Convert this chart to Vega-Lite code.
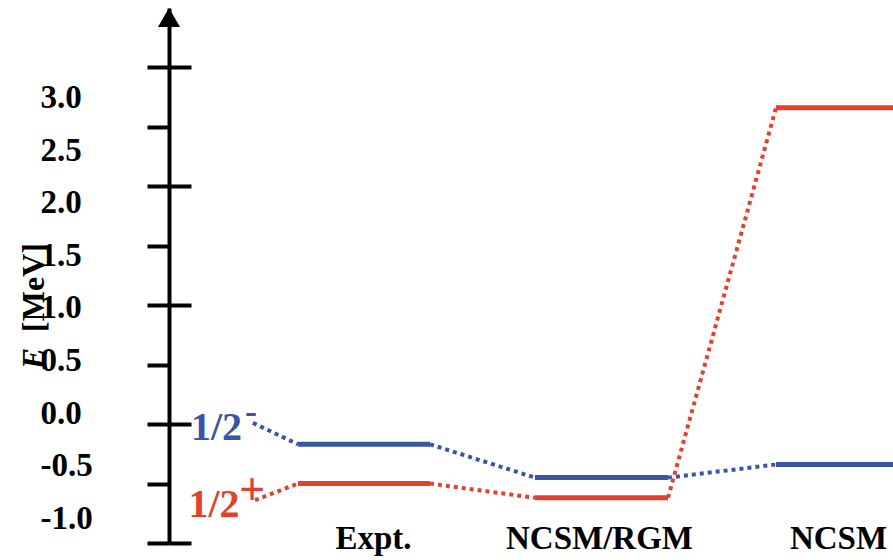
{
  "$schema": "https://vega.github.io/schema/vega-lite/v6.json",
  "width": 724,
  "height": 535,
  "autosize": {"type": "none"},
  "padding": {"left": 169, "top": 8, "right": 0, "bottom": 17},
  "background": "white",
  "config": {"view": {"stroke": null}},
  "datasets": {
    "segments": [
      {"state": "1/2-", "kind": "link", "x": 0.84, "E": 0.01, "x2": 1.29, "E2": -0.17},
      {"state": "1/2-", "kind": "level", "x": 1.29, "E": -0.17, "x2": 2.61, "E2": -0.17},
      {"state": "1/2-", "kind": "link", "x": 2.61, "E": -0.17, "x2": 3.66, "E2": -0.45},
      {"state": "1/2-", "kind": "level", "x": 3.66, "E": -0.45, "x2": 4.99, "E2": -0.45},
      {"state": "1/2-", "kind": "link", "x": 4.99, "E": -0.45, "x2": 6.07, "E2": -0.34},
      {"state": "1/2-", "kind": "level", "x": 6.07, "E": -0.34, "x2": 7.6, "E2": -0.34},
      {"state": "1/2+", "kind": "link", "x": 0.86, "E": -0.64, "x2": 1.29, "E2": -0.5},
      {"state": "1/2+", "kind": "level", "x": 1.29, "E": -0.5, "x2": 2.61, "E2": -0.5},
      {"state": "1/2+", "kind": "link", "x": 2.61, "E": -0.5, "x2": 3.66, "E2": -0.62},
      {"state": "1/2+", "kind": "level", "x": 3.66, "E": -0.62, "x2": 4.99, "E2": -0.62},
      {"state": "1/2+", "kind": "link", "x": 4.99, "E": -0.62, "x2": 6.07, "E2": 2.66},
      {"state": "1/2+", "kind": "level", "x": 6.07, "E": 2.66, "x2": 7.6, "E2": 2.66}
    ],
    "labels": [
      {"state": "1/2-", "kind": "main", "text": "1/2", "x": 0.475, "E": -0.034},
      {"state": "1/2-", "kind": "sup", "text": "-", "x": 0.82, "E": 0.1},
      {"state": "1/2+", "kind": "main", "text": "1/2", "x": 0.45, "E": -0.68},
      {"state": "1/2+", "kind": "sup", "text": "+", "x": 0.83, "E": -0.56}
    ],
    "arrow": [
      {"x": 0, "E": 3.42}
    ]
  },
  "resolve": {"axis": {"y": "independent"}},
  "layer": [
    {
      "data": {"name": "segments"},
      "mark": {"type": "rule", "clip": true},
      "encoding": {
        "x": {
          "field": "x", "type": "quantitative",
          "scale": {"domain": [0, 7.24], "nice": false, "zero": false},
          "axis": {
            "values": [2.04, 4.3, 6.69],
            "labelExpr": "datum.value < 3 ? 'Expt.' : (datum.value < 5 ? 'NCSM/RGM' : 'NCSM')",
            "domain": false, "ticks": false, "tickSize": 0, "grid": false,
            "labelFont": "Liberation Serif", "labelFontWeight": "bold", "labelFontSize": 33,
            "labelColor": "black", "labelBaseline": "alphabetic", "labelPadding": 5,
            "labelLimit": 500,
            "labelFlush": false, "labelOverlap": false, "title": null
          }
        },
        "x2": {"field": "x2"},
        "y": {
          "field": "E", "type": "quantitative",
          "scale": {"domain": [-1, 3.5], "nice": false, "zero": false},
          "axis": {
            "orient": "left",
            "values": [3, 2.5, 2, 1.5, 1, 0.5, 0, -0.5, -1],
            "labelExpr": "datum.value < 0 ? '-' + format(-datum.value, '.1f') : format(datum.value, '.1f')",
            "grid": false,
            "domainColor": "black", "domainWidth": 4,
            "tickColor": "black", "tickWidth": 4, "tickSize": 22,
            "labelFont": "Liberation Serif", "labelFontWeight": "bold", "labelFontSize": 33,
            "labelColor": "black", "labelAlign": "left", "labelPadding": 107,
            "labelOffset": {"expr": "2.7 + 13.75 * (datum.value - 1)"},
            "labelOverlap": false, "labelFlush": false,
            "title": "[MeV]",
            "titleFont": "Liberation Serif", "titleFontWeight": "bold", "titleFontSize": 32,
            "titleColor": "black", "titleAngle": -90, "titleAlign": "center", "titleBaseline": "middle",
            "titleX": -136, "titleY": 279
          }
        },
        "y2": {"field": "E2"},
        "color": {
          "field": "state", "type": "nominal",
          "scale": {"domain": ["1/2-", "1/2+"], "range": ["#3b55a6", "#e4402f"]},
          "legend": null
        },
        "strokeDash": {
          "field": "kind", "type": "nominal",
          "scale": {"domain": ["level", "link"], "range": [[1, 0], [4, 4]]},
          "legend": null
        },
        "strokeWidth": {
          "field": "kind", "type": "nominal",
          "scale": {"domain": ["level", "link"], "range": [5, 4]},
          "legend": null
        }
      }
    },
    {
      "data": {"name": "labels"},
      "transform": [{"filter": "datum.kind === 'main'"}],
      "mark": {"type": "text", "font": "Liberation Serif", "fontWeight": "bold", "fontSize": 40, "align": "center", "baseline": "middle"},
      "encoding": {
        "x": {"field": "x", "type": "quantitative"},
        "y": {"field": "E", "type": "quantitative", "axis": null},
        "text": {"field": "text"},
        "color": {"field": "state", "type": "nominal", "legend": null}
      }
    },
    {
      "data": {"name": "labels"},
      "transform": [{"filter": "datum.kind === 'sup'"}],
      "mark": {"type": "text", "font": "Liberation Serif", "fontWeight": "bold", "align": "center", "baseline": "middle"},
      "encoding": {
        "x": {"field": "x", "type": "quantitative"},
        "y": {"field": "E", "type": "quantitative", "axis": null},
        "text": {"field": "text"},
        "size": {
          "field": "text", "type": "nominal",
          "scale": {"domain": ["-", "+"], "range": [36, 46]},
          "legend": null
        },
        "color": {"field": "state", "type": "nominal", "legend": null}
      }
    },
    {
      "data": {"name": "arrow"},
      "mark": {"type": "point", "shape": "triangle-up", "size": 484, "filled": true, "color": "black", "opacity": 1},
      "encoding": {
        "x": {"field": "x", "type": "quantitative"},
        "y": {
          "field": "E", "type": "quantitative",
          "axis": {
            "orient": "left",
            "values": [3, 2, 1, 0, -1],
            "grid": false, "domain": false, "labels": false,
            "tickColor": "black", "tickWidth": 4, "tickSize": -22,
            "title": "E",
            "titleFont": "Liberation Serif", "titleFontWeight": "bold", "titleFontStyle": "italic", "titleFontSize": 32,
            "titleColor": "black", "titleAngle": -90, "titleAlign": "center", "titleBaseline": "middle",
            "titleX": -136, "titleY": 350
          }
        }
      }
    }
  ]
}
